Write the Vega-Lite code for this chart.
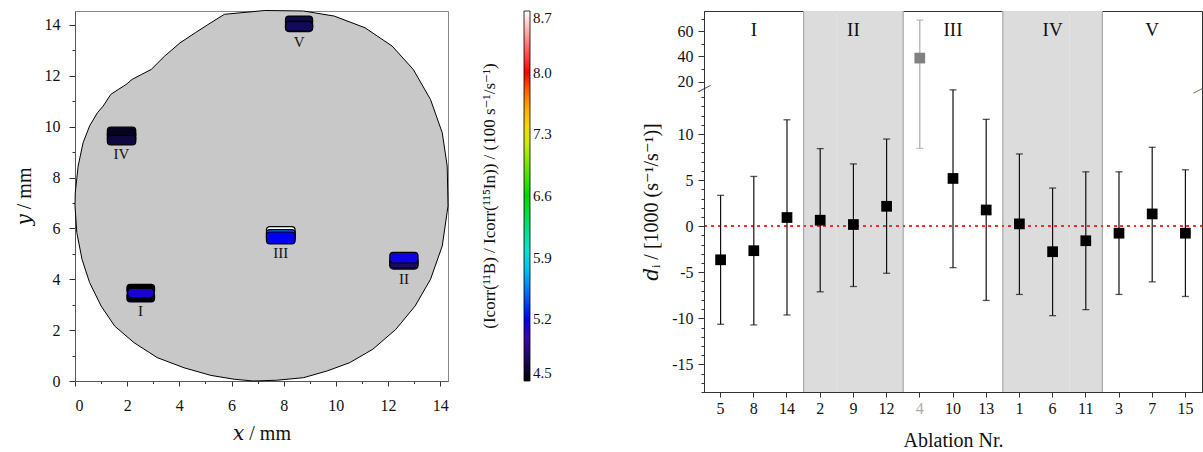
{
  "$schema": "https://vega.github.io/schema/vega-lite/v6.json",
  "padding": {"left": 13, "top": 7, "right": 0, "bottom": 0},
  "background": "white",
  "config": {
    "font": "Liberation Serif, DejaVu Serif, serif",
    "axis": {
      "labelFont": "Liberation Serif, DejaVu Serif, serif",
      "titleFont": "Liberation Serif, DejaVu Serif, serif",
      "labelFontSize": 16,
      "titleFontSize": 20,
      "titleFontWeight": "normal",
      "labelColor": "#111",
      "titleColor": "#111",
      "tickColor": "#333",
      "domainColor": "#333",
      "labelOverlap": false,
      "grid": false
    },
    "legend": {
      "labelFont": "Liberation Serif, DejaVu Serif, serif",
      "titleFont": "Liberation Serif, DejaVu Serif, serif"
    }
  },
  "datasets": {
    "outline": [
      {"i": 0, "x": 7.28, "y": 14.57},
      {"i": 1, "x": 5.73, "y": 14.42},
      {"i": 2, "x": 5.21, "y": 14.09},
      {"i": 3, "x": 4.62, "y": 13.7},
      {"i": 4, "x": 4.03, "y": 13.3},
      {"i": 5, "x": 3.44, "y": 12.78},
      {"i": 6, "x": 2.92, "y": 12.25},
      {"i": 7, "x": 2.56, "y": 12.06},
      {"i": 8, "x": 2.19, "y": 11.86},
      {"i": 9, "x": 1.96, "y": 11.66},
      {"i": 10, "x": 1.67, "y": 11.47},
      {"i": 11, "x": 1.37, "y": 11.27},
      {"i": 12, "x": 1.08, "y": 10.81},
      {"i": 13, "x": 0.86, "y": 10.55},
      {"i": 14, "x": 0.56, "y": 10.03},
      {"i": 15, "x": 0.31, "y": 9.37},
      {"i": 16, "x": 0.12, "y": 8.45},
      {"i": 17, "x": 0.01, "y": 7.4},
      {"i": 18, "x": 0.0, "y": 6.88},
      {"i": 19, "x": 0.07, "y": 5.83},
      {"i": 20, "x": 0.27, "y": 4.78},
      {"i": 21, "x": 0.56, "y": 3.87},
      {"i": 22, "x": 1.0, "y": 2.95},
      {"i": 23, "x": 1.52, "y": 2.16},
      {"i": 24, "x": 2.26, "y": 1.51},
      {"i": 25, "x": 3.15, "y": 0.92},
      {"i": 26, "x": 4.18, "y": 0.52},
      {"i": 27, "x": 5.21, "y": 0.22},
      {"i": 28, "x": 6.1, "y": 0.07},
      {"i": 29, "x": 6.84, "y": 0.0},
      {"i": 30, "x": 7.73, "y": 0.03},
      {"i": 31, "x": 8.76, "y": 0.13},
      {"i": 32, "x": 9.65, "y": 0.39},
      {"i": 33, "x": 10.53, "y": 0.72},
      {"i": 34, "x": 11.42, "y": 1.25},
      {"i": 35, "x": 12.3, "y": 2.03},
      {"i": 36, "x": 13.04, "y": 2.95},
      {"i": 37, "x": 13.63, "y": 4.0},
      {"i": 38, "x": 14.08, "y": 5.31},
      {"i": 39, "x": 14.3, "y": 6.88},
      {"i": 40, "x": 14.27, "y": 8.45},
      {"i": 41, "x": 14.08, "y": 9.76},
      {"i": 42, "x": 13.63, "y": 11.07},
      {"i": 43, "x": 12.97, "y": 12.25},
      {"i": 44, "x": 12.16, "y": 13.17},
      {"i": 45, "x": 11.12, "y": 13.89},
      {"i": 46, "x": 9.94, "y": 14.35},
      {"i": 47, "x": 8.76, "y": 14.55},
      {"i": 48, "x": 7.28, "y": 14.57}
    ],
    "spots": [
      {"group": "I", "x1": 1.99, "x2": 3.05, "y1": 3.41, "y2": 3.8, "ratio": 4.5},
      {"group": "I", "x1": 1.99, "x2": 3.05, "y1": 3.11, "y2": 3.51, "ratio": 4.52},
      {"group": "I", "x1": 2.02, "x2": 3.02, "y1": 3.28, "y2": 3.64, "ratio": 5.12},
      {"group": "II", "x1": 12.07, "x2": 13.15, "y1": 4.4, "y2": 4.8, "ratio": 4.76},
      {"group": "II", "x1": 12.07, "x2": 13.15, "y1": 4.46, "y2": 4.86, "ratio": 4.78},
      {"group": "II", "x1": 12.07, "x2": 13.15, "y1": 4.64, "y2": 5.06, "ratio": 5.15},
      {"group": "III", "x1": 7.34, "x2": 8.44, "y1": 5.62, "y2": 6.07, "ratio": 8.7},
      {"group": "III", "x1": 7.34, "x2": 8.44, "y1": 5.5, "y2": 5.95, "ratio": 5.5},
      {"group": "III", "x1": 7.34, "x2": 8.44, "y1": 5.39, "y2": 5.86, "ratio": 5.2},
      {"group": "IV", "x1": 1.24, "x2": 2.33, "y1": 9.4, "y2": 9.82, "ratio": 4.6},
      {"group": "IV", "x1": 1.24, "x2": 2.33, "y1": 9.56, "y2": 9.98, "ratio": 4.58},
      {"group": "IV", "x1": 1.24, "x2": 2.33, "y1": 9.28, "y2": 9.66, "ratio": 4.68},
      {"group": "V", "x1": 8.07, "x2": 9.11, "y1": 13.95, "y2": 14.35, "ratio": 4.72},
      {"group": "V", "x1": 8.07, "x2": 9.11, "y1": 13.74, "y2": 14.15, "ratio": 4.74},
      {"group": "V", "x1": 8.07, "x2": 9.11, "y1": 13.76, "y2": 14.13, "ratio": 4.75}
    ],
    "spotCentres": [
      {"group": "I", "x": 2.51, "y": 3.46},
      {"group": "II", "x": 12.61, "y": 4.73},
      {"group": "III", "x": 7.89, "y": 5.73},
      {"group": "IV", "x": 1.78, "y": 9.63},
      {"group": "V", "x": 8.59, "y": 14.05}
    ],
    "ablations": [
      {"abl": "5", "group": "I", "d": -3.65, "lo": -10.65, "hi": 3.35},
      {"abl": "8", "group": "I", "d": -2.66, "lo": -10.72, "hi": 5.4},
      {"abl": "14", "group": "I", "d": 0.94, "lo": -9.64, "hi": 11.55},
      {"abl": "2", "group": "II", "d": 0.65, "lo": -7.12, "hi": 8.42},
      {"abl": "9", "group": "II", "d": 0.18, "lo": -6.55, "hi": 6.76},
      {"abl": "12", "group": "II", "d": 2.16, "lo": -5.11, "hi": 9.46},
      {"abl": "4", "group": "III", "d": 38.7, "lo": 8.45, "hi": 68.8},
      {"abl": "10", "group": "III", "d": 5.18, "lo": -4.5, "hi": 14.8},
      {"abl": "13", "group": "III", "d": 1.76, "lo": -8.06, "hi": 11.6},
      {"abl": "1", "group": "IV", "d": 0.25, "lo": -7.41, "hi": 7.84},
      {"abl": "6", "group": "IV", "d": -2.77, "lo": -9.71, "hi": 4.14},
      {"abl": "11", "group": "IV", "d": -1.58, "lo": -9.06, "hi": 5.9},
      {"abl": "3", "group": "V", "d": -0.76, "lo": -7.41, "hi": 5.9},
      {"abl": "7", "group": "V", "d": 1.33, "lo": -6.04, "hi": 8.56},
      {"abl": "15", "group": "V", "d": -0.76, "lo": -7.63, "hi": 6.12}
    ],
    "regions": [
      {"group": "I", "abl": "8"},
      {"group": "II", "abl": "9"},
      {"group": "III", "abl": "10"},
      {"group": "IV", "abl": "6"},
      {"group": "V", "abl": "7"}
    ]
  },
  "hconcat": [
    {
      "width": 373,
      "height": 370,
      "view": {"stroke": "#888", "strokeWidth": 1},
      "encoding": {
        "x": {
          "field": "x",
          "type": "quantitative",
          "scale": {"domain": [0, 14.3], "nice": false, "zero": false},
          "axis": {
            "title": "𝑥 / mm",
            "values": [0, 1, 2, 3, 4, 5, 6, 7, 8, 9, 10, 11, 12, 13, 14],
            "tickCount": 200,
            "labelExpr": "datum.value % 2 === 0 ? datum.value + '' : ''",
            "labelOverlap": false,
            "tickSize": {"condition": {"test": "datum.value % 2 === 0", "value": 5}, "value": 2.5},
            "labelPadding": 11,
            "titlePadding": 10,
            "domainColor": "#555"
          }
        },
        "y": {
          "field": "y",
          "type": "quantitative",
          "scale": {"domain": [0, 14.55], "nice": false, "zero": false},
          "axis": {
            "title": "𝑦 / mm",
            "values": [0, 1, 2, 3, 4, 5, 6, 7, 8, 9, 10, 11, 12, 13, 14],
            "tickCount": 200,
            "labelExpr": "datum.value % 2 === 0 ? datum.value + '' : ''",
            "labelOverlap": false,
            "tickSize": {"condition": {"test": "datum.value % 2 === 0", "value": 6}, "value": 3},
            "labelPadding": 9,
            "titlePadding": 10,
            "domainColor": "#555"
          }
        }
      },
      "layer": [
        {
          "data": {"name": "outline"},
          "mark": {"type": "line", "fill": "#c8c8c8", "stroke": "black", "strokeWidth": 1, "interpolate": "linear"},
          "encoding": {"order": {"field": "i", "type": "quantitative"}}
        },
        {
          "data": {"name": "spots"},
          "mark": {"type": "rect", "cornerRadius": 3.5, "stroke": "black", "strokeWidth": 1.2},
          "encoding": {
            "x": {"field": "x1", "type": "quantitative"},
            "x2": {"field": "x2"},
            "y": {"field": "y1", "type": "quantitative"},
            "y2": {"field": "y2"},
            "fill": {
              "field": "ratio",
              "type": "quantitative",
              "scale": {
                "domain": [4.5, 4.75, 4.95, 5.2, 5.55, 5.9, 6.6, 7.3, 7.7, 8.0, 8.35, 8.7],
                "range": ["#000000", "#140a5c", "#4a0a9a", "#0000f0", "#0080f0", "#00e8f0", "#00d800", "#f0f000", "#ff9000", "#ff0000", "#ff8080", "#ffffff"],
                "interpolate": "rgb"
              },
              "legend": {
                "orient": "right",
                "direction": "vertical",
                "gradientLength": 370,
                "gradientThickness": 6,
                "gradientStrokeColor": "black",
                "gradientStrokeWidth": 0.8,
                "values": [4.5, 5.2, 5.9, 6.6, 7.3, 8.0, 8.7],
                "format": ".1f",
                "labelFontSize": 15,
                "labelColor": "#111",
                "labelOffset": 3,
                "title": "(Icorr(¹¹B) / Icorr(¹¹⁵In))  /  (100 s⁻¹/s⁻¹)",
                "titleLimit": 400,
                "titleOrient": "left",
                "titleAngle": 270,
                "titleAnchor": "middle",
                "titleFontSize": 17,
                "titleFontWeight": "normal",
                "titleColor": "#111",
                "titlePadding": 24,
                "offset": 33
              }
            }
          }
        },
        {
          "data": {"name": "spotCentres"},
          "mark": {"type": "text", "dy": 18, "fontSize": 15, "color": "#111"},
          "encoding": {"text": {"field": "group"}}
        }
      ]
    },
    {
      "width": 498,
      "height": 381,
      "view": {"stroke": "#333", "strokeWidth": 1},
      "data": {"name": "ablations"},
      "encoding": {
        "x": {
          "field": "abl",
          "type": "nominal",
          "scale": {
            "type": "band",
            "domain": ["5", "8", "14", "2", "9", "12", "4", "10", "13", "1", "6", "11", "3", "7", "15"],
            "paddingInner": 0,
            "paddingOuter": 0
          },
          "axis": {
            "title": "Ablation Nr.",
            "labelAngle": 0,
            "bandPosition": 0.5,
            "tickSize": 5,
            "labelPadding": 3,
            "titlePadding": 14,
            "labelColor": {"condition": {"test": "datum.value === '4'", "value": "#aaa"}, "value": "#111"}
          }
        }
      },
      "layer": [
        {
          "transform": [{"filter": {"field": "group", "oneOf": ["II", "IV"]}}],
          "mark": {"type": "rect", "fill": "#dcdcdc"},
          "encoding": {
            "y": {
              "datum": -18,
              "type": "quantitative",
              "scale": {"domain": [-18, 15, 76], "range": [381, 77, 0], "nice": false, "zero": false},
              "axis": {
                "title": "𝑑ᵢ  /  [1000 (s⁻¹/s⁻¹)]",
                "values": [-18, -17, -16, -15, -14, -13, -12, -11, -10, -9, -8, -7, -6, -5, -4, -3, -2, -1, 0, 1, 2, 3, 4, 5, 6, 7, 8, 9, 10, 11, 12, 13, 14, 20, 30, 40, 50, 60, 70],
                "tickCount": 200,
                "labelExpr": "indexof([-15, -10, -5, 0, 5, 10, 20, 40, 60], datum.value) >= 0 ? datum.value + '' : ''",
                "labelOverlap": false,
                "tickSize": {"condition": {"test": "indexof([-15, -10, -5, 0, 5, 10, 20, 40, 60], datum.value) >= 0", "value": 6}, "value": 3},
                "labelPadding": 5,
                "titlePadding": 10
              }
            },
            "y2": {"datum": 76}
          }
        },
        {
          "transform": [{"filter": {"field": "abl", "oneOf": ["2", "4", "1", "3"]}}],
          "mark": {"type": "rule", "color": "#a8a8a8", "strokeWidth": 1.2},
          "encoding": {"x": {"field": "abl", "type": "nominal", "bandPosition": 0}}
        },
        {
          "mark": {"type": "rule", "color": "#ff2a2a", "strokeWidth": 1.5, "strokeDash": [2, 4.6]},
          "encoding": {"x": null, "y": {"datum": 0, "type": "quantitative"}}
        },
        {
          "mark": {"type": "rule", "strokeWidth": 1.2},
          "encoding": {
            "y": {"field": "lo", "type": "quantitative"},
            "y2": {"field": "hi"},
            "color": {"condition": {"test": "datum.abl === '4'", "value": "#aaaaaa"}, "value": "#111"}
          }
        },
        {
          "mark": {"type": "tick", "size": 7, "thickness": 1.3},
          "encoding": {
            "y": {"field": "lo", "type": "quantitative"},
            "color": {"condition": {"test": "datum.abl === '4'", "value": "#aaaaaa"}, "value": "#111"}
          }
        },
        {
          "mark": {"type": "tick", "size": 7, "thickness": 1.3},
          "encoding": {
            "y": {"field": "hi", "type": "quantitative"},
            "color": {"condition": {"test": "datum.abl === '4'", "value": "#aaaaaa"}, "value": "#111"}
          }
        },
        {
          "mark": {"type": "square", "size": 115, "opacity": 1},
          "encoding": {
            "y": {"field": "d", "type": "quantitative"},
            "color": {"condition": {"test": "datum.abl === '4'", "value": "#808080"}, "value": "#000"}
          }
        },
        {
          "data": {"name": "regions"},
          "mark": {"type": "text", "fontSize": 19, "color": "#111"},
          "encoding": {"y": {"datum": 61, "type": "quantitative"}, "text": {"field": "group"}}
        },
        {
          "transform": [{"filter": {"field": "abl", "equal": "5"}}],
          "mark": {"type": "text", "text": "—", "fontSize": 14, "angle": -28, "color": "#111"},
          "encoding": {"x": {"field": "abl", "type": "nominal", "bandPosition": 0}, "y": {"datum": 15, "type": "quantitative"}}
        },
        {
          "transform": [{"filter": {"field": "abl", "equal": "15"}}],
          "mark": {"type": "text", "text": "—", "fontSize": 10, "angle": -28, "dx": -5, "color": "#111"},
          "encoding": {"x": {"field": "abl", "type": "nominal", "bandPosition": 1}, "y": {"datum": 15, "type": "quantitative"}}
        }
      ]
    }
  ],
  "spacing": 88,
  "resolve": {
    "scale": {"fill": "independent", "x": "independent", "y": "independent"},
    "legend": {"fill": "independent"}
  }
}
